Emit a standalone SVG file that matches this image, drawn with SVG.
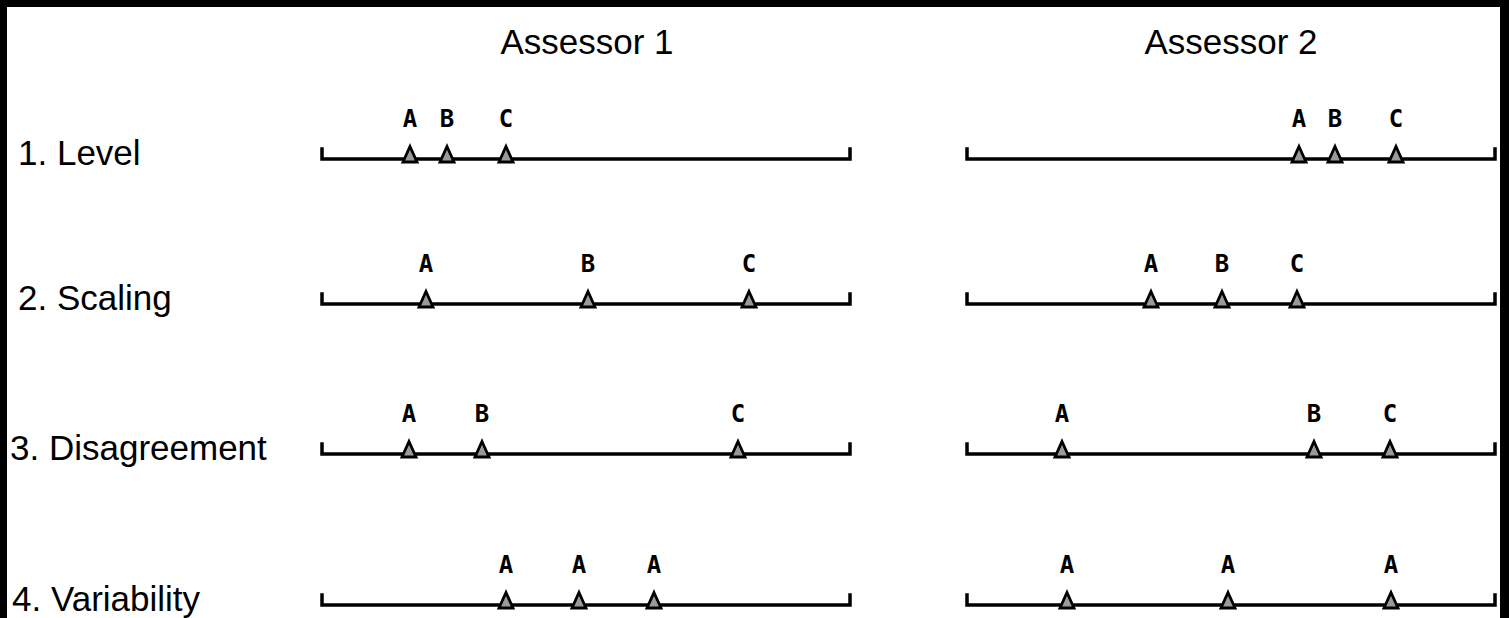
<svg xmlns="http://www.w3.org/2000/svg" xmlns:xlink="http://www.w3.org/1999/xlink" width="1509" height="618" viewBox="0 0 1509 618">
  <style>
    .head { font-family: "Liberation Sans", Arial, sans-serif; font-size: 35px; fill: #000; }
    .row { font-family: "Liberation Sans", Arial, sans-serif; font-size: 35px; fill: #000; }
    .mk { font-family: "DejaVu Sans Mono", "Liberation Mono", monospace; font-size: 24px; font-weight: bold; fill: #000; text-anchor: middle; }
    .scale { fill: none; stroke: #000; stroke-width: 3.5; stroke-linecap: square; stroke-linejoin: miter; }
  </style>
  <defs>
    <!-- rating marker: small grey triangle sitting on the scale -->
    <path id="tri" d="M0,-12.5 L7,3 L-7,3 Z" fill="#9a9a9a" stroke="#000" stroke-width="2.8" stroke-linejoin="miter"/>
    <!-- rating scale with end ticks -->
    <path id="scaleA" class="scale" d="M322,-10 V0 H850 V-10"/>
    <path id="scaleB" class="scale" d="M967,-10 V0 H1495 V-10"/>
  </defs>

  <!-- frame -->
  <rect x="0" y="0" width="1509" height="618" fill="#000"/>
  <rect x="7" y="7" width="1493" height="611" fill="#fff"/>

  <g id="headers">
    <text class="head" x="587" y="54" text-anchor="middle">Assessor 1</text>
    <text class="head" x="1231" y="54" text-anchor="middle">Assessor 2</text>
  </g>

  <g id="row-level" transform="translate(0,159)">
    <text class="row" x="18" y="6">1. Level</text>
    <use xlink:href="#scaleA"/>
    <use xlink:href="#scaleB"/>
    <use xlink:href="#tri" x="410"/><text class="mk" x="410" y="-32">A</text>
    <use xlink:href="#tri" x="447"/><text class="mk" x="447" y="-32">B</text>
    <use xlink:href="#tri" x="506"/><text class="mk" x="506" y="-32">C</text>
    <use xlink:href="#tri" x="1299"/><text class="mk" x="1299" y="-32">A</text>
    <use xlink:href="#tri" x="1335"/><text class="mk" x="1335" y="-32">B</text>
    <use xlink:href="#tri" x="1396"/><text class="mk" x="1396" y="-32">C</text>
  </g>

  <g id="row-scaling" transform="translate(0,304)">
    <text class="row" x="18" y="6">2. Scaling</text>
    <use xlink:href="#scaleA"/>
    <use xlink:href="#scaleB"/>
    <use xlink:href="#tri" x="426"/><text class="mk" x="426" y="-32">A</text>
    <use xlink:href="#tri" x="588"/><text class="mk" x="588" y="-32">B</text>
    <use xlink:href="#tri" x="749"/><text class="mk" x="749" y="-32">C</text>
    <use xlink:href="#tri" x="1151"/><text class="mk" x="1151" y="-32">A</text>
    <use xlink:href="#tri" x="1222"/><text class="mk" x="1222" y="-32">B</text>
    <use xlink:href="#tri" x="1297"/><text class="mk" x="1297" y="-32">C</text>
  </g>

  <g id="row-disagreement" transform="translate(0,454)">
    <text class="row" x="10" y="6">3. Disagreement</text>
    <use xlink:href="#scaleA"/>
    <use xlink:href="#scaleB"/>
    <use xlink:href="#tri" x="409"/><text class="mk" x="409" y="-32">A</text>
    <use xlink:href="#tri" x="482"/><text class="mk" x="482" y="-32">B</text>
    <use xlink:href="#tri" x="738"/><text class="mk" x="738" y="-32">C</text>
    <use xlink:href="#tri" x="1062"/><text class="mk" x="1062" y="-32">A</text>
    <use xlink:href="#tri" x="1314"/><text class="mk" x="1314" y="-32">B</text>
    <use xlink:href="#tri" x="1390"/><text class="mk" x="1390" y="-32">C</text>
  </g>

  <g id="row-variability" transform="translate(0,605)">
    <text class="row" x="12" y="6">4. Variability</text>
    <use xlink:href="#scaleA"/>
    <use xlink:href="#scaleB"/>
    <use xlink:href="#tri" x="506"/><text class="mk" x="506" y="-32">A</text>
    <use xlink:href="#tri" x="579"/><text class="mk" x="579" y="-32">A</text>
    <use xlink:href="#tri" x="654"/><text class="mk" x="654" y="-32">A</text>
    <use xlink:href="#tri" x="1067"/><text class="mk" x="1067" y="-32">A</text>
    <use xlink:href="#tri" x="1228"/><text class="mk" x="1228" y="-32">A</text>
    <use xlink:href="#tri" x="1391"/><text class="mk" x="1391" y="-32">A</text>
  </g>
</svg>
